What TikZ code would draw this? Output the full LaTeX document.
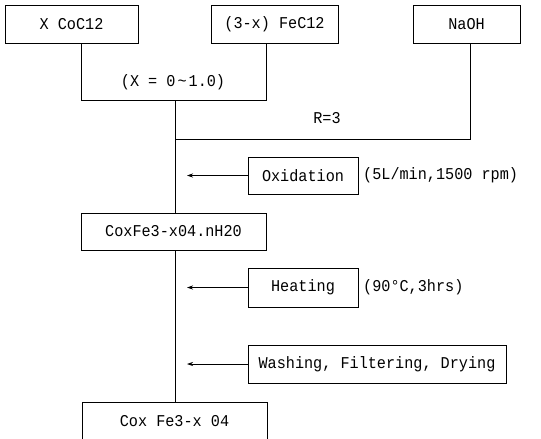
\documentclass[tikz,border=0pt]{standalone}
\usepackage{fontspec}
\setmainfont[FakeStretch=0.92]{Liberation Mono}
\usetikzlibrary{arrows.meta}
\tikzset{
  box/.style={draw, line width=0.7pt, inner sep=0pt, font=\fontsize{16.5}{16.5}\selectfont},
  lbl/.style={inner sep=0pt, font=\fontsize{16.5}{16.5}\selectfont},
  ln/.style={line width=0.7pt},
  arr/.style={line width=0.7pt, -{Stealth[length=6pt,width=4pt]}}
}
\begin{document}
\begin{tikzpicture}[x=1pt,y=-1pt]
\useasboundingbox (0,0) rectangle (541,439);
\node[box, minimum width=133pt, minimum height=38pt] (co) at (71.5,24) {X CoC12};
\node[box, minimum width=127pt, minimum height=38pt] (fe) at (274.5,24) {(3-x) FeC12};
\node[box, minimum width=107pt, minimum height=38pt] (na) at (466.5,24) {NaOH};
\node[box, minimum width=110pt, minimum height=37pt] (ox) at (303,175.5) {Oxidation};
\node[box, minimum width=185pt, minimum height=37pt] (cox) at (173.5,231.5) {CoxFe3-x04.nH20};
\node[box, minimum width=110pt, minimum height=39pt] (heat) at (303,287.5) {Heating};
\node[box, minimum width=258pt, minimum height=38pt] (wash) at (377,364) {Washing, Filtering, Drying};
\node[box, minimum width=185pt, minimum height=38pt] (fin) at (174.5,421) {Cox Fe3-x 04};

\node[lbl] (xr) at (173,82) {(X = 0\hspace{2pt}\textasciitilde\hspace{2pt}1.0)};
\node[lbl] (r3) at (327,118) {R=3};
\node[lbl, anchor=west] (oxc) at (363,175.5) {(5L/min,1500 rpm)};
\node[lbl, anchor=west] (htc) at (363,287.5) {(90°C,3hrs)};

\coordinate (j1) at (81,100);
\coordinate (j2) at (266,100);
\coordinate (j3) at (175,100);
\coordinate (j4) at (175,139);
\coordinate (j5) at (470,139);
\coordinate (a1) at (187,175.5);
\coordinate (a2) at (187,287.5);
\coordinate (a3) at (187,364);

\draw[ln] (co.south -| j1) -- (j1) -- (j2) -- (fe.south -| j2);
\draw[ln] (j3) -- (cox.north -| j3);
\draw[ln] (na.south -| j5) -- (j5) -- (j4);
\draw[ln] (cox.south -| j3) -- (fin.north -| j3);
\draw[arr] (ox.west) -- (a1);
\draw[arr] (heat.west) -- (a2);
\draw[arr] (wash.west) -- (a3);
\end{tikzpicture}
\end{document}
